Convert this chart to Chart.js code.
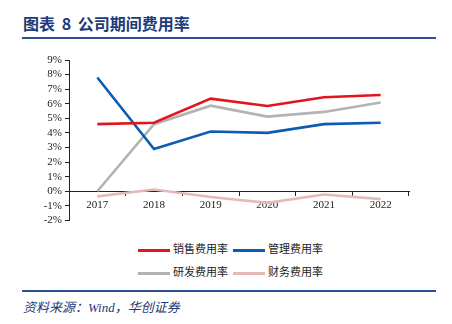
<!DOCTYPE html>
<html>
<head>
<meta charset="utf-8">
<script src="https://cdn.jsdelivr.net/npm/chart.js@4"></script>
<style>
  body { margin: 0; width: 452px; height: 324px; background: #fff; position: relative; overflow: hidden; }
  .title { position: absolute; left: 23px; top: 11px; font: bold 16px "Noto Sans CJK SC", serif; color: #1c3b78; word-spacing: 3px; }
  .rule { position: absolute; left: 22px; width: 414px; height: 2px; background: #2b5394; }
  .source { position: absolute; left: 23px; top: 297px; font: italic 13px "Liberation Serif", "Noto Sans CJK SC", serif; color: #1c3b78; }
  #wrap { position: absolute; left: 0; top: 50px; width: 420px; height: 180px; }
  .legend { position: absolute; font: 11px "Noto Sans CJK SC", sans-serif; color: #222; }
  .legend span.line { display: inline-block; width: 32px; height: 3px; vertical-align: middle; margin-right: 3px; }
  .legend div { position: absolute; white-space: nowrap; }
</style>
</head>
<body>
<div class="title">图表 8 公司期间费用率</div>
<div class="rule" style="top:37px"></div>
<div id="wrap"><canvas id="chart"></canvas></div>
<div class="legend" id="legend"></div>
<div class="rule" style="top:290px"></div>
<div class="source">资料来源：Wind，华创证券</div>
<script>
// chart data
var years = ['2017', '2018', '2019', '2020', '2021', '2022'];
var sellingRate = [4.6, 4.7, 6.35, 5.85, 6.45, 6.6];
var adminRate = [7.8, 2.9, 4.1, 4.0, 4.6, 4.7];
var rdRate = [0.0, 4.6, 5.87, 5.12, 5.44, 6.08];
var financeRate = [-0.35, 0.12, -0.4, -0.8, -0.22, -0.54];

var seriesNames = ['销售费用率', '管理费用率', '研发费用率', '财务费用率'];
var seriesColors = ['#e3141d', '#0b5cb5', '#b3b3b3', '#e6b9b9'];

function makeSet(i, data) {
    return {
        label: seriesNames[i],
        data: data,
        borderColor: seriesColors[i],
        backgroundColor: seriesColors[i],
        borderWidth: 2.6,
        pointRadius: 0,
        tension: 0,
        fill: false
    };
}

var ctx = document.getElementById('chart').getContext('2d');
var chart = new Chart(ctx, {
    type: 'line',
    data: {
        labels: years,
        datasets: [
            makeSet(0, sellingRate),
            makeSet(1, adminRate),
            makeSet(2, rdRate),
            makeSet(3, financeRate)
        ]
    },
    options: {
        responsive: true,
        maintainAspectRatio: false,
        animation: false,
        layout: { padding: { top: 10, right: 11, bottom: 8, left: 0 } },
        plugins: {
            legend: { display: false },
            tooltip: { enabled: false }
        },
        scales: {
            x: {
                position: { y: 0 },
                offset: true,
                grid: {
                    display: true,
                    offset: true,
                    drawOnChartArea: false,
                    drawTicks: true,
                    tickLength: 4,
                    color: '#222'
                },
                border: { display: true, color: '#222', width: 1 },
                ticks: {
                    color: '#222',
                    padding: 3,
                    font: { family: 'Liberation Serif', size: 11 },
                    maxRotation: 0
                }
            },
            y: {
                min: -2,
                max: 9,
                afterFit: function(scale) { scale.width = 69; },
                grid: {
                    display: true,
                    drawOnChartArea: false,
                    drawTicks: true,
                    tickLength: 4,
                    color: '#222'
                },
                border: { display: true, color: '#222', width: 1 },
                ticks: {
                    stepSize: 1,
                    autoSkip: false,
                    color: '#222',
                    padding: 3,
                    font: { family: 'Liberation Serif', size: 11 },
                    callback: function(v) { return v + '%'; }
                }
            }
        }
    }
});

// html legend, two per row
var legendPos = [[138, 240], [233, 240], [138, 263], [233, 263]];
var legend = document.getElementById('legend');
seriesNames.forEach(function(name, i) {
    var d = document.createElement('div');
    d.style.left = legendPos[i][0] + 'px';
    d.style.top = legendPos[i][1] + 'px';
    d.innerHTML = '<span class="line" style="background:' + seriesColors[i] + '"></span>' + name;
    legend.appendChild(d);
});
</script>
</body>
</html>
